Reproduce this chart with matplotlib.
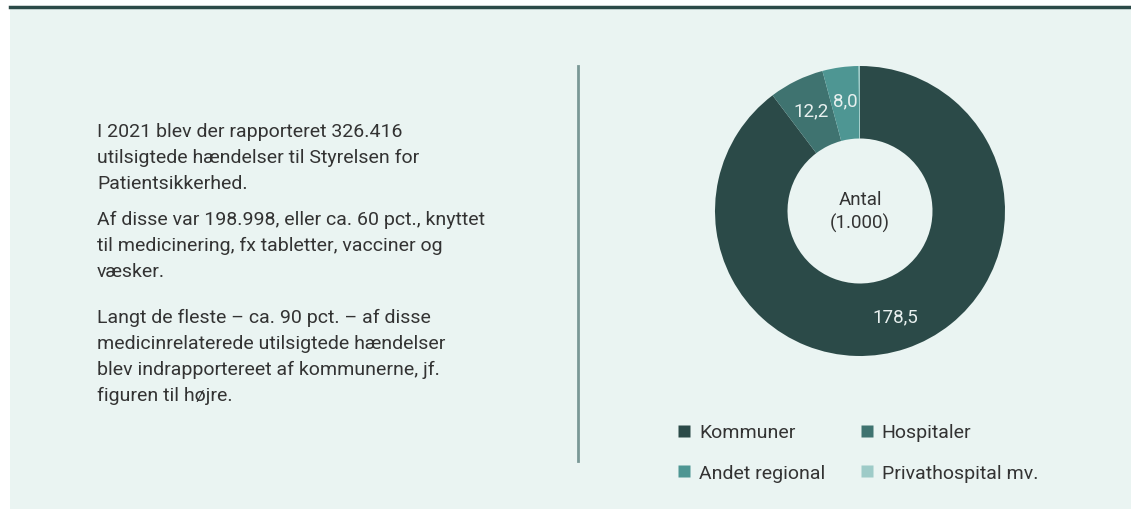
import matplotlib.pyplot as plt
from matplotlib.lines import Line2D
import numpy as np

# data (antal i 1.000)
categories = ['Kommuner', 'Hospitaler', 'Andet regional', 'Privathospital mv.']
values = [178.5, 12.2, 8.0, 0.3]
value_labels = ['178,5', '12,2', '8,0', '']
colors = ['#2b4a48', '#3f7370', '#4e9693', '#9ecbc8']

paragraphs = [
    ["I 2021 blev der rapporteret 326.416",
     "utilsigtede hændelser til Styrelsen for",
     "Patientsikkerhed."],
    ["Af disse var 198.998, eller ca. 60 pct., knyttet",
     "til medicinering, fx tabletter, vacciner og",
     "væsker."],
    ["Langt de fleste – ca. 90 pct. – af disse",
     "medicinrelaterede utilsigtede hændelser",
     "blev indrapportereet af kommunerne, jf.",
     "figuren til højre."],
]

plt.rcParams['font.family'] = ['Roboto', 'DejaVu Sans']
W, H = 1131, 510
fig = plt.figure(figsize=(W / 100, H / 100), dpi=100)
fig.patch.set_facecolor('white')

def fx(px):
    return px / W

def fy(py):
    return 1 - py / H

# panel background and top rule
bg = plt.Rectangle((fx(10), 0), 1 - fx(10), fy(9), transform=fig.transFigure,
                   facecolor='#eaf4f2', edgecolor='none', zorder=-5)
fig.add_artist(bg)
fig.add_artist(Line2D([fx(10), 1], [fy(8), fy(8)], color='#2b4a48', lw=2.5))

# vertical separator
fig.add_artist(Line2D([fx(578), fx(578)], [fy(67), fy(462)], color='#7a9896', lw=2))

# left text block, one baseline per line
baselines = [[137, 163, 189], [225, 251, 277], [323, 349, 375, 401]]
for lines, bls in zip(paragraphs, baselines):
    for line, b in zip(lines, bls):
        fig.text(fx(97), fy(b), line, ha='left', va='baseline', fontsize=14,
                 color='#333333')

# donut
cx, cy, r = 860, 212, 145
ax = fig.add_axes([fx(cx - r), fy(cy + r), 2 * r / W, 2 * r / H])
ax.set_zorder(2)
wedges, _ = ax.pie(values, colors=colors, startangle=90, counterclock=False,
                   radius=1, wedgeprops=dict(width=0.5, edgecolor='none'))
for w, lab in zip(wedges, value_labels):
    if not lab:
        continue
    ang = np.deg2rad((w.theta1 + w.theta2) / 2)
    ax.text(0.77 * np.cos(ang), 0.77 * np.sin(ang), lab, ha='center', va='center',
            fontsize=13.5, color='#e8f0ef')
ax.text(0, 0, 'Antal\n(1.000)', ha='center', va='center', fontsize=13.5,
        color='#333333', linespacing=1.3)
ax.set_xlim(-1, 1)
ax.set_ylim(-1, 1)
ax.set_aspect('equal')
ax.axis('off')

# legend filled row-wise like the reference
order = [0, 2, 1, 3]
handles = [Line2D([], [], marker='s', linestyle='none', markersize=9,
                  markerfacecolor=colors[i], markeredgecolor='none') for i in order]
labels = [categories[i] for i in order]
fig.legend(handles, labels, ncol=2, frameon=False, fontsize=14,
           loc='upper left', bbox_to_anchor=(fx(660), fy(407)),
           handlelength=0.7, handletextpad=0.4, columnspacing=1.8,
           labelspacing=1.15, labelcolor='#333333')

fig.savefig('out.png', dpi=100, facecolor=fig.get_facecolor())
